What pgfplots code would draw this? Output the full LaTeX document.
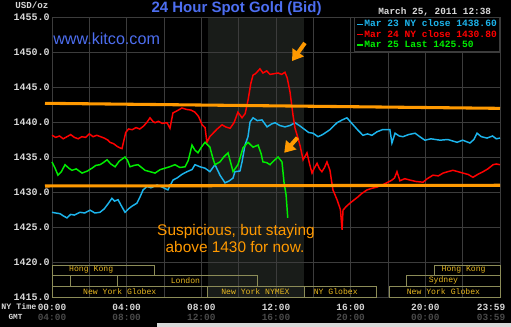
\documentclass[border=0pt]{standalone}
\usepackage{pgfplots}
\pgfplotsset{compat=1.18}
\usepackage{fontspec}
\setmainfont{Liberation Sans}
\newfontfamily\mono{Liberation Mono}
\usetikzlibrary{arrows.meta}
\definecolor{cyanl}{HTML}{1CB4EC}
\definecolor{redl}{HTML}{FF0000}
\definecolor{greenl}{HTML}{00EE00}
\definecolor{orangec}{HTML}{FF9900}
\definecolor{titleblue}{HTML}{4D6EF0}
\definecolor{gridc}{HTML}{3C3C3C}
\definecolor{shadec}{HTML}{191C19}
\definecolor{tickc}{HTML}{D8D8D8}
\definecolor{gmtc}{HTML}{4A4A4A}
\definecolor{sessc}{HTML}{8C8C58}
\definecolor{sesst}{HTML}{E8B820}
\definecolor{stripc}{HTML}{D9D9D9}

\pgfplotstableread{
h v
0 1438.1
0.2 1437.8
0.4 1438.0
0.6 1437.6
0.8 1437.9
1.0 1438.2
1.2 1437.8
1.4 1437.6
1.6 1437.9
1.8 1437.8
2.0 1438.3
2.2 1437.9
2.4 1438.1
2.6 1437.9
2.8 1437.7
3.0 1437.4
3.1 1437.1
3.3 1436.9
3.5 1436.5
3.64 1436.3
3.75 1436.2
3.95 1438.5
4.1 1439.0
4.3 1438.9
4.5 1439.2
4.7 1439.0
4.9 1439.4
5.1 1440.0
5.25 1440.6
5.4 1440.1
5.52 1439.9
5.7 1440.1
5.9 1439.8
6.16 1439.9
6.32 1439.1
6.48 1441.3
6.7 1441.6
6.96 1442.0
7.2 1441.8
7.45 1441.7
7.66 1441.4
7.85 1440.8
8.04 1439.6
8.2 1439.2
8.30 1437.1
8.45 1437.9
8.63 1438.4
8.85 1439.0
9.11 1439.6
9.3 1439.3
9.54 1439.1
9.75 1439.9
9.96 1441.4
10.18 1440.6
10.35 1441.2
10.50 1443.1
10.65 1445.5
10.77 1446.7
10.9 1446.9
11.04 1447.3
11.14 1447.6
11.3 1447.0
11.5 1447.3
11.68 1446.8
11.9 1446.9
12.11 1447.0
12.3 1446.8
12.48 1447.1
12.6 1446.3
12.75 1444.3
12.91 1441.0
13.02 1439.1
13.18 1437.7
13.3 1436.5
13.45 1434.6
13.66 1435.6
13.8 1434.0
13.93 1432.7
14.05 1433.4
14.20 1434.1
14.33 1433.3
14.46 1432.9
14.6 1433.5
14.73 1434.3
14.89 1433.1
15.05 1430.3
15.27 1428.9
15.45 1427.5
15.54 1424.6
15.59 1427.4
15.75 1427.9
15.96 1428.4
16.15 1428.8
16.39 1429.3
16.6 1429.8
16.88 1430.3
17.1 1430.5
17.41 1430.7
17.7 1431.0
18.00 1431.4
18.21 1431.7
18.35 1432.0
18.48 1432.9
18.64 1431.6
18.9 1431.9
19.18 1431.7
19.5 1431.5
19.88 1431.4
20.1 1431.9
20.41 1432.4
20.7 1432.3
20.95 1432.7
21.2 1432.9
21.48 1433.1
21.75 1432.9
22.02 1432.7
22.3 1432.5
22.55 1432.1
22.8 1432.5
23.09 1432.9
23.35 1433.3
23.63 1433.9
23.8 1434.0
24.0 1433.9
}\redtable

\pgfplotstableread{
h v
0 1427.1
0.2 1427.0
0.43 1426.9
0.6 1426.6
0.8 1426.3
1.0 1426.8
1.2 1426.7
1.5 1427.1
1.75 1427.0
2.04 1427.4
2.3 1427.0
2.57 1427.1
2.8 1427.6
3.0 1428.3
3.21 1429.1
3.35 1428.7
3.54 1428.9
3.7 1428.1
3.91 1427.1
4.1 1427.6
4.3 1428.0
4.55 1428.4
4.7 1429.2
4.88 1430.3
5.1 1430.8
5.3 1430.6
5.63 1431.0
5.9 1430.7
6.21 1430.3
6.48 1431.7
6.7 1432.0
6.95 1432.5
7.23 1432.9
7.5 1433.2
7.66 1433.9
7.93 1433.6
8.2 1433.4
8.46 1432.9
8.73 1433.9
9.0 1432.4
9.27 1431.3
9.5 1431.6
9.70 1432.0
9.80 1432.9
10.07 1433.0
10.18 1434.3
10.34 1436.7
10.5 1437.9
10.61 1440.0
10.77 1440.6
11.0 1440.2
11.25 1440.3
11.52 1439.3
11.75 1439.7
11.95 1439.9
12.2 1439.5
12.48 1439.3
12.75 1439.5
13.02 1439.9
13.3 1439.4
13.55 1438.9
13.75 1438.5
13.98 1438.4
14.25 1437.9
14.5 1438.2
14.89 1438.9
15.27 1439.9
15.55 1440.3
15.80 1440.6
16.13 1439.6
16.4 1438.8
16.66 1438.1
16.9 1438.3
17.14 1438.1
17.41 1438.6
17.7 1438.9
17.95 1438.9
18.1 1438.9
18.21 1437.0
18.38 1438.4
18.6 1438.0
18.80 1437.9
19.1 1438.2
19.45 1438.4
19.7 1437.9
19.98 1437.4
20.3 1437.6
20.79 1437.4
21.2 1437.5
21.70 1437.1
22.0 1437.4
22.39 1437.0
22.6 1437.5
22.77 1438.4
23.0 1437.9
23.30 1437.7
23.6 1438.0
23.8 1437.6
24.0 1437.7
}\cyantable

\pgfplotstableread{
h v
0 1434.3
0.15 1433.5
0.32 1432.4
0.5 1432.9
0.70 1433.9
0.9 1433.4
1.07 1433.1
1.3 1433.3
1.61 1432.7
1.9 1433.0
2.14 1433.4
2.35 1433.8
2.57 1433.9
2.75 1434.2
2.95 1434.6
3.15 1434.0
3.38 1433.6
3.6 1434.4
3.91 1435.0
4.05 1434.5
4.18 1433.6
4.4 1433.8
4.61 1433.9
4.8 1433.5
4.98 1433.1
5.25 1432.9
5.52 1432.7
5.8 1433.2
6.05 1433.4
6.3 1433.6
6.59 1433.9
6.85 1433.5
7.13 1433.6
7.3 1434.5
7.50 1436.7
7.65 1436.0
7.82 1435.6
8.0 1436.4
8.20 1437.1
8.46 1436.4
8.6 1435.0
8.73 1433.9
9.00 1434.3
9.2 1435.0
9.43 1435.6
9.70 1432.9
9.96 1433.9
10.1 1435.1
10.23 1436.3
10.50 1437.1
10.77 1436.4
11.04 1436.7
11.2 1435.5
11.30 1434.3
11.5 1434.2
11.68 1433.9
11.9 1434.5
12.11 1435.0
12.32 1434.3
12.43 1431.4
12.54 1429.6
12.63 1426.3
}\greentable

\begin{document}
\begin{tikzpicture}
% page background
\fill[black] (0,0) rectangle (383.25pt,245.25pt);
\begin{scope}[x=0.75pt, y=-0.75pt, yshift=245.25pt]
  \fill[stripc] (157,323) rectangle (511,327);
  % NYMEX pit session shading (8:20 - 13:30)
  \fill[shadec] (207.6,17) rectangle (304,297);
\end{scope}

\begin{axis}[
  at={(39pt,22.5pt)}, anchor=south west,
  scale only axis, width=336pt, height=210pt,
  xmin=0, xmax=24, ymin=1415, ymax=1455,
  clip=false,
  axis line style={draw=gridc, line width=0.6pt},
  grid=major, grid style={draw=gridc, line width=0.6pt},
  tick style={draw=none},
  xtick={0,2,...,24},
  xticklabels={{00:00\\\textcolor{gmtc}{04:00}},{},{04:00\\\textcolor{gmtc}{08:00}},{},{08:00\\\textcolor{gmtc}{12:00}},{},{12:00\\\textcolor{gmtc}{16:00}},{},{16:00\\\textcolor{gmtc}{20:00}},{},{20:00\\\textcolor{gmtc}{00:00}},{},{}},
  extra x ticks={23.52},
  extra x tick labels={{23:59\\\textcolor{gmtc}{03:59}}},
  extra x tick style={grid=none},
  xticklabel style={font=\mono\bfseries\fontsize{7.1}{7.9}\selectfont, text=tickc, align=center, anchor=north, inner sep=0pt, yshift=-5pt},
  ytick={1415,1420,...,1455},
  yticklabels={1415.0,1420.0,1425.0,1430.0,1435.0,1440.0,1445.0,1450.0,1455.0},
  yticklabel style={font=\mono\bfseries\fontsize{7.5}{9}\selectfont, text=tickc, anchor=east, inner sep=0pt, xshift=-1.5pt},
  legend style={at={(rel axis cs:1,1)}, anchor=north east, fill=black, draw=gridc, line width=0.6pt,
    font=\mono\bfseries\fontsize{7.2}{8}\selectfont, inner xsep=1.5pt, inner ysep=1.5pt,
    row sep=0.6pt, nodes={inner sep=0.6pt, text height=5pt, text depth=1pt},
    /tikz/every even column/.append style={column sep=1.5pt}},
  legend cell align=left,
  legend image code/.code={\draw[#1, line width=1pt] (0pt,0pt) -- (4pt,0pt);},
]
% session boxes
\begin{scope}[sessc, line width=0.7pt]
  \draw (axis cs:0,1418.14) rectangle (axis cs:5.5,1419.57);
  \draw (axis cs:20.5,1418.14) rectangle (axis cs:24,1419.57);
  \draw (axis cs:0,1416.57) rectangle (axis cs:0.97,1418.14);
  \draw (axis cs:3.5,1416.57) rectangle (axis cs:11.0,1418.14);
  \draw (axis cs:19.0,1416.57) rectangle (axis cs:24,1418.14);
  \draw (axis cs:0,1415) rectangle (axis cs:8.33,1416.57);
  \draw (axis cs:8.33,1415) rectangle (axis cs:13.5,1416.57);
  \draw (axis cs:13.5,1415) rectangle (axis cs:17.4,1416.57);
  \draw (axis cs:18.07,1415) rectangle (axis cs:24,1416.57);
\end{scope}
\begin{scope}[every node/.style={text=sesst, font=\mono\fontsize{6.1}{7}\selectfont, inner sep=0pt}]
  \node at (axis cs:2.1,1418.85) {Hong Kong};
  \node at (axis cs:22.05,1418.85) {Hong Kong};
  \node at (axis cs:7.15,1417.35) {London};
  \node at (axis cs:20.97,1417.35) {Sydney};
  \node at (axis cs:3.63,1415.78) {New York Globex};
  \node at (axis cs:10.9,1415.78) {New York NYMEX};
  \node at (axis cs:15.2,1415.78) {NY Globex};
  \node at (axis cs:20.97,1415.78) {New York Globex};
\end{scope}

\addplot[cyanl, line width=1.1pt] table[x=h,y=v] {\cyantable};
\addlegendentry{\textcolor{cyanl}{Mar 23 NY close 1438.60}}
\addplot[redl, line width=1.1pt] table[x=h,y=v] {\redtable};
\addlegendentry{\textcolor{redl}{Mar 24 NY close 1430.80}}
\addplot[greenl, line width=1.1pt] table[x=h,y=v] {\greentable};
\addlegendentry{\textcolor{greenl}{Mar 25 Last 1425.50}}

% trend lines
\addplot[orangec, line width=2.3pt, forget plot] coordinates {(-0.375,1442.67) (24,1441.95)};
\addplot[orangec, line width=2.3pt, forget plot] coordinates {(-0.375,1430.86) (24,1430.96)};
% arrows
\draw[orangec, line width=3pt, -{Triangle[length=8pt,width=10pt]}] (axis cs:13.55,1451.29) -- (axis cs:12.86,1448.71);
\draw[orangec, line width=3pt, -{Triangle[length=8pt,width=10pt]}] (axis cs:13.15,1437.76) -- (axis cs:12.44,1435.6);
\end{axis}

\begin{scope}[x=0.75pt, y=-0.75pt, yshift=245.25pt]
  \node[anchor=base, inner sep=0pt, text=titleblue, font=\bfseries\fontsize{11.25}{13}\selectfont] at (236.5,13) {24 Hour Spot Gold (Bid)};
  \node[anchor=base west, inner sep=0pt, text=titleblue, font=\fontsize{12.1}{14}\selectfont] at (53,44.5) {www.kitco.com};
  \node[anchor=base west, inner sep=0pt, text=tickc, font=\mono\bfseries\fontsize{6.9}{8}\selectfont] at (15,8.5) {USD/oz};
  \node[anchor=base west, inner sep=0pt, text=tickc, font=\mono\bfseries\fontsize{7.05}{8}\selectfont] at (378,15) {March 25, 2011 12:38};
  \node[anchor=base west, inner sep=0pt, text=tickc, font=\mono\bfseries\fontsize{6.25}{8}\selectfont] at (1,310) {NY Time};
  \node[anchor=base west, inner sep=0pt, text=tickc, font=\mono\bfseries\fontsize{5.8}{8}\selectfont] at (8.3,320) {GMT};
  \node[anchor=base, inner sep=0pt, text=orangec, font=\fontsize{11.55}{13}\selectfont] at (236,235.5) {Suspicious, but staying};
  \node[anchor=base, inner sep=0pt, text=orangec, font=\fontsize{11.55}{13}\selectfont] at (235,253) {above 1430 for now.};
\end{scope}
\end{tikzpicture}
\end{document}
